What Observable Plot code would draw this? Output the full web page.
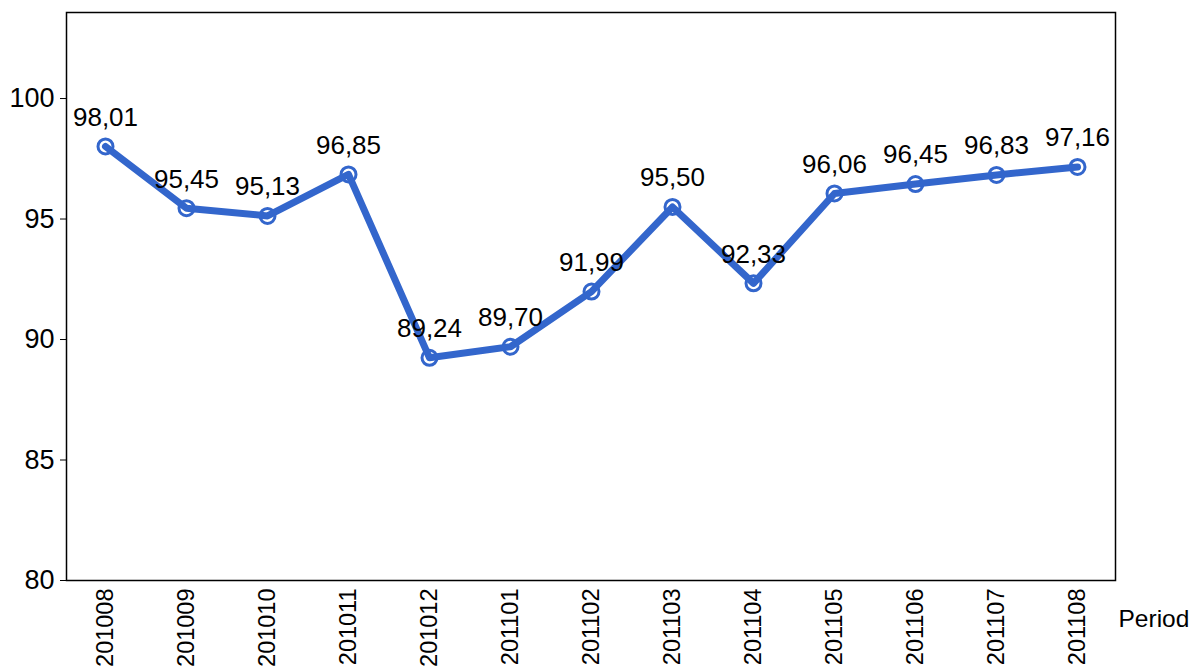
<!DOCTYPE html>
<html>
<head>
<meta charset="utf-8">
<script src="https://cdn.jsdelivr.net/npm/d3@7"></script>
<script src="https://cdn.jsdelivr.net/npm/@observablehq/plot@0.6"></script>
<style>
  html, body { margin: 0; padding: 0; background: white; }
</style>
</head>
<body>
<div id="chart"></div>
<script>
const periods = ["201008","201009","201010","201011","201012","201101","201102","201103","201104","201105","201106","201107","201108"];
const values = [98.01, 95.45, 95.13, 96.85, 89.24, 89.70, 91.99, 95.50, 92.33, 96.06, 96.45, 96.83, 97.16];
const yTicks = [80, 85, 90, 95, 100];
const xTitle = "Period";

const data = periods.map((p, i) => ({period: p, value: values[i], label: values[i].toFixed(2).replace(".", ",")}));

const chart = Plot.plot({
  width: 1191,
  height: 671,
  marginLeft: 66,
  marginRight: 76,
  marginTop: 12,
  marginBottom: 91,
  style: {fontFamily: "'Liberation Sans', Arial, sans-serif", fontSize: "24px", background: "white", color: "black"},
  x: {type: "point", domain: periods, padding: 0.475, label: null},
  y: {domain: [80, 103.57], label: null},
  marks: [
    Plot.frame({stroke: "black", strokeWidth: 1.5}),
    Plot.axisY({ticks: yTicks, tickSize: 6, tickPadding: 6, fontSize: 27, label: null}),
    Plot.axisX({tickRotate: -90, tickSize: 0, tickPadding: 8, fontSize: 23.5, label: null}),
    Plot.dot(data, {x: "period", y: "value", r: 7.5, stroke: "#3366cc", strokeWidth: 3, fill: "white"}),
    Plot.line(data, {x: "period", y: "value", stroke: "#3366cc", strokeWidth: 7}),
    Plot.text(data, {x: "period", y: "value", text: "label", dy: -29, fontSize: 26, fill: "black"}),
    Plot.text([xTitle], {frameAnchor: "bottom-right", textAnchor: "start", dx: 3, dy: 46, fontSize: 24.5, fill: "black"})
  ]
});
document.getElementById("chart").appendChild(chart);
</script>
</body>
</html>
